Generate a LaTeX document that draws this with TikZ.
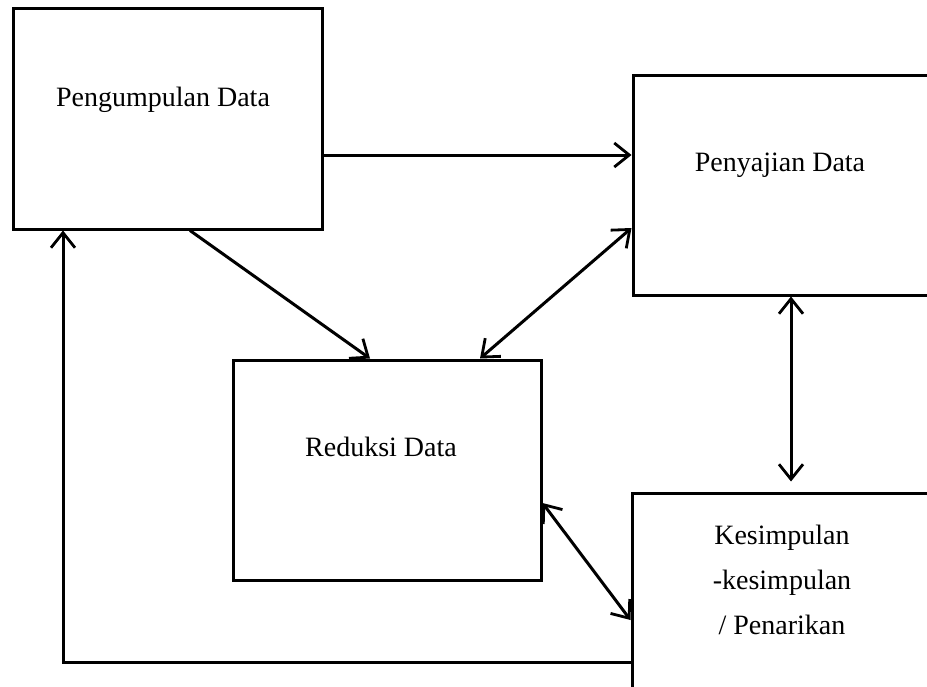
\documentclass[tikz,border=0pt]{standalone}
\usepackage{fontspec}
\setmainfont{Liberation Serif}
\usetikzlibrary{arrows.meta}

\tikzset{
  box/.style={draw,line width=3pt,inner sep=0pt},
  txt/.style={font=\fontsize{28}{45}\selectfont,align=center,inner sep=0pt},
  link/.style={line width=3pt,-{Straight Barb[length=15pt,width=24pt,line width=2.8pt]}},
  both/.style={line width=3pt,{Straight Barb[length=15pt,width=24pt,line width=2.8pt]}-{Straight Barb[length=15pt,width=24pt,line width=2.8pt]}}
}

\begin{document}
\begin{tikzpicture}[x=1pt,y=-1pt]
  \useasboundingbox (0,0) rectangle (927,686);
  % boxes
  \node[box,minimum width=309pt,minimum height=221pt] (pengumpulan) at (167.5,118.5) {};
  \node[box,minimum width=307pt,minimum height=220pt] (penyajian) at (786.5,185) {};
  \node[box,minimum width=308pt,minimum height=220pt] (reduksi) at (387,470) {};
  \node[box,minimum width=308pt,minimum height=207pt] (kesimpulan) at (786,596.5) {};
  % texts
  \node[txt] (pengumpulan-txt) at (163,100) {Pengumpulan Data};
  \node[txt] (penyajian-txt) at (780,165) {Penyajian Data};
  \node[txt] (reduksi-txt) at (381,447) {Reduksi Data};
  \node[txt] (kesimpulan-txt) at (782,580) {Kesimpulan\\-kesimpulan\\/ Penarikan};
  % connectors
  \draw[link] (pengumpulan.east |- 0,155) -- (penyajian.west |- 0,155);
  \draw[link] (pengumpulan.south -| 190,0) -- (reduksi.north -| 370,0);
  \draw[both] (reduksi.north -| 480,0) -- (penyajian.west |- 0,228);
  \draw[both,shorten >=10pt] (penyajian.south -| 791,0) -- (kesimpulan.north -| 791,0);
  \draw[both] (reduksi.east |- 0,503) -- (kesimpulan.west |- 0,620);
  \draw[link] (kesimpulan.west |- 0,662) -| (pengumpulan.south -| 63,0);
\end{tikzpicture}
\end{document}
